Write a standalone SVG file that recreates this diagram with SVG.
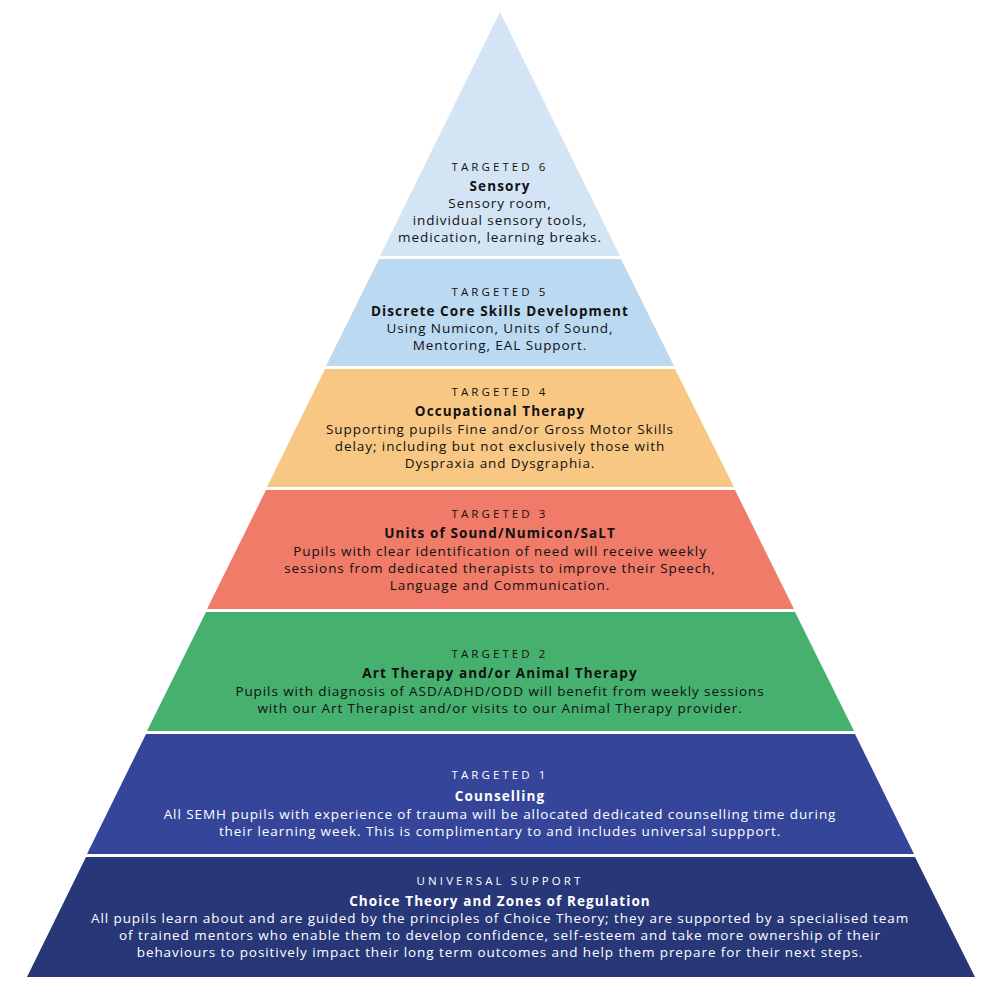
<svg xmlns="http://www.w3.org/2000/svg" width="1000" height="1000" viewBox="0 0 1000 1000">
<style>
text{font-family:"Open Sans","Liberation Sans",sans-serif;text-anchor:middle;font-size:13.5px;letter-spacing:0.92px}
.k{letter-spacing:3.1px;font-size:11.5px}
.b{font-weight:bold;letter-spacing:1.1px}
.d{fill:#111}
.w{fill:#fff}
</style>
<rect width="1000" height="1000" fill="#fff"/>
<g id="t6"><polygon points="500,12 620,256 380,256" fill="#d3e5f4"/>
<text class="k d" x="500" y="171">TARGETED 6</text><text class="b d" x="500" y="191">Sensory</text>
<text class="d" x="500" y="208">Sensory room,</text><text class="d" x="500" y="225">individual sensory tools,</text><text class="d" x="500" y="242">medication, learning breaks.</text></g>
<g id="t5"><polygon points="379,259 621,259 674,366 326,366" fill="#bcd9f2"/>
<text class="k d" x="500" y="296">TARGETED 5</text><text class="b d" x="500" y="316">Discrete Core Skills Development</text>
<text class="d" x="500" y="333">Using Numicon, Units of Sound,</text><text class="d" x="500" y="350">Mentoring, EAL Support.</text></g>
<g id="t4"><polygon points="325,369 675,369 734,487 267,487" fill="#f9c784"/>
<text class="k d" x="500" y="396">TARGETED 4</text><text class="b d" x="500" y="416">Occupational Therapy</text>
<text class="d" x="500" y="434">Supporting pupils Fine and/or Gross Motor Skills</text><text class="d" x="500" y="451">delay; including but not exclusively those with</text><text class="d" x="500" y="468">Dyspraxia and Dysgraphia.</text></g>
<g id="t3"><polygon points="266,490 735,490 794,609 207,609" fill="#ef7b68"/>
<text class="k d" x="500" y="518">TARGETED 3</text><text class="b d" x="500" y="538">Units of Sound/Numicon/SaLT</text>
<text class="d" x="500" y="556">Pupils with clear identification of need will receive weekly</text><text class="d" x="500" y="573">sessions from dedicated therapists to improve their Speech,</text><text class="d" x="500" y="590">Language and Communication.</text></g>
<g id="t2"><polygon points="206,612 795,612 854,731 147,731" fill="#46b06e"/>
<text class="k d" x="500" y="658">TARGETED 2</text><text class="b d" x="500" y="678">Art Therapy and/or Animal Therapy</text>
<text class="d" x="500" y="696">Pupils with diagnosis of ASD/ADHD/ODD will benefit from weekly sessions</text><text class="d" x="500" y="713">with our Art Therapist and/or visits to our Animal Therapy provider.</text></g>
<g id="t1"><polygon points="146,734 855,734 914,854 87,854" fill="#35469a"/>
<text class="k w" x="500" y="779">TARGETED 1</text><text class="b w" x="500" y="801">Counselling</text>
<text class="w" x="500" y="819">All SEMH pupils with experience of trauma will be allocated dedicated counselling time during</text><text class="w" x="500" y="836">their learning week. This is complimentary to and includes universal suppport.</text></g>
<g id="u"><polygon points="86,857 915,857 975,977 27,977" fill="#273778"/>
<text class="k w" x="500" y="885">UNIVERSAL SUPPORT</text><text class="b w" x="500" y="906">Choice Theory and Zones of Regulation</text>
<text class="w" x="500" y="923">All pupils learn about and are guided by the principles of Choice Theory; they are supported by a specialised team</text><text class="w" x="500" y="940">of trained mentors who enable them to develop confidence, self-esteem and take more ownership of their</text><text class="w" x="500" y="957">behaviours to positively impact their long term outcomes and help them prepare for their next steps.</text></g>
</svg>
